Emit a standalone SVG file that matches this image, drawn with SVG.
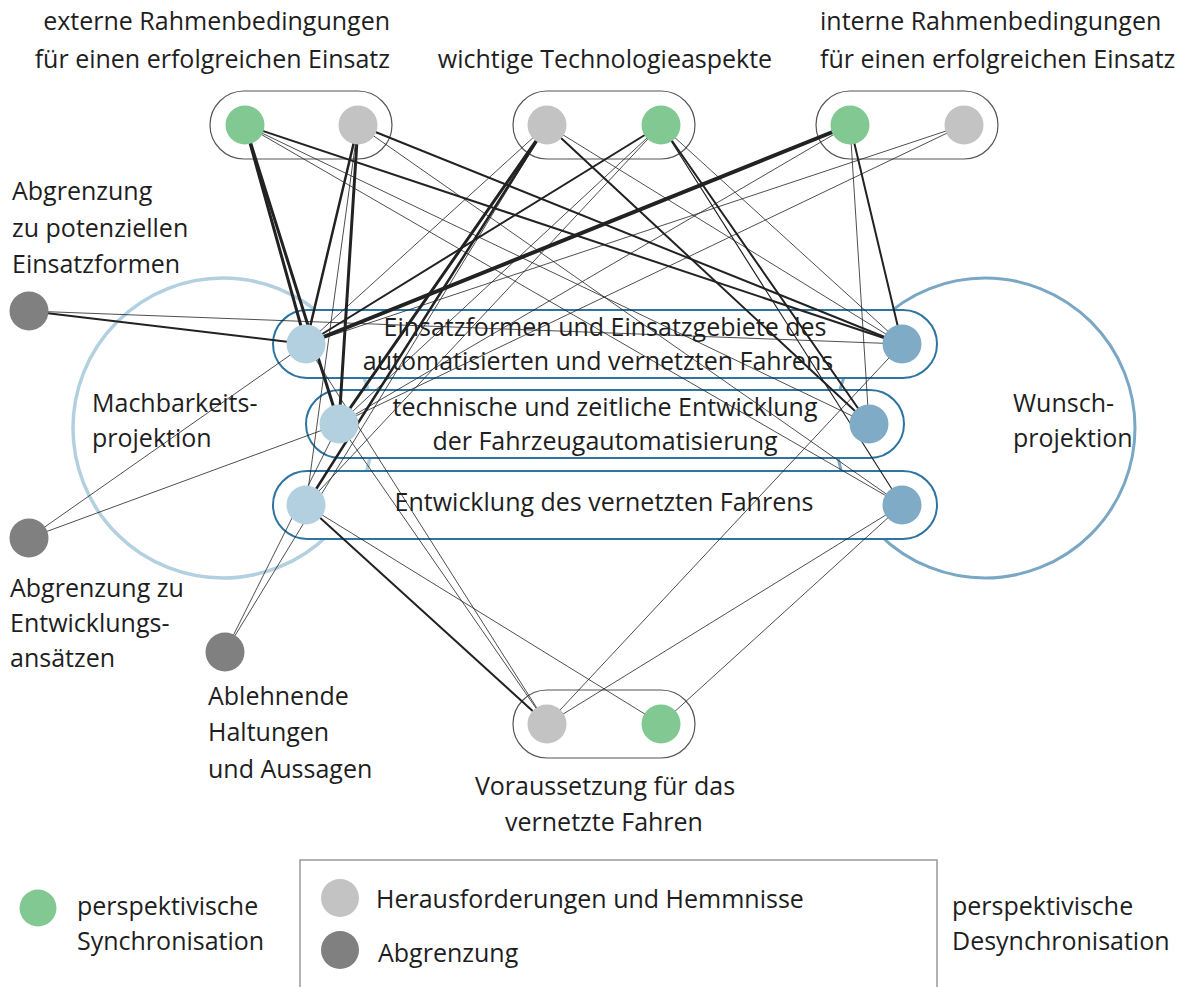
<svg xmlns="http://www.w3.org/2000/svg" width="1187" height="987" viewBox="0 0 1187 987">
<style>
text{font-family:"Open Sans","Liberation Sans",sans-serif;font-size:25px;fill:#1e1e1e}
.m{text-anchor:middle}
.r{text-anchor:end}
.grp{fill:#fff;stroke:#555;stroke-width:1.2}
.bp{fill:#fff;stroke:#2e74a0;stroke-width:2}
.g{fill:#82c892}
.lg{fill:#c3c3c3}
.dg{fill:#808080}
.lb{fill:#b3d0e0}
.db{fill:#7fabc6}
#edges line{stroke:#222;stroke-linecap:round}
.t{stroke-width:0.8}
.m2{stroke-width:2}
.k{stroke-width:3}
.k4{stroke-width:4}
</style>
<rect width="1187" height="987" fill="#fff"/>
<g id="circles">
<circle cx="223" cy="428" r="150" fill="none" stroke="#b3d0e0" stroke-width="3.5"/>
<circle cx="985" cy="428" r="150" fill="none" stroke="#7aa7c4" stroke-width="3"/>
</g>
<g id="pills">
<rect class="grp" x="210" y="91" width="182" height="68" rx="34"/>
<rect class="grp" x="513" y="91" width="182" height="68" rx="34"/>
<rect class="grp" x="816" y="91" width="182" height="68" rx="34"/>
<rect class="grp" x="513" y="690" width="182" height="68" rx="34"/>
<rect class="bp" x="273" y="310" width="664" height="68" rx="34"/>
<rect class="bp" x="306" y="390" width="598" height="68" rx="34"/>
<rect class="bp" x="273" y="471" width="664" height="68" rx="34"/>
</g>
<g id="labels">
<text class="r" x="390" y="30">externe Rahmenbedingungen</text>
<text class="r" x="390" y="68">für einen erfolgreichen Einsatz</text>
<text class="m" x="605" y="68">wichtige Technologieaspekte</text>
<text x="820" y="30">interne Rahmenbedingungen</text>
<text x="820" y="68">für einen erfolgreichen Einsatz</text>
<text x="12" y="200">Abgrenzung</text>
<text x="12" y="237">zu potenziellen</text>
<text x="12" y="273">Einsatzformen</text>
<text x="92" y="412">Machbarkeits-</text>
<text x="92" y="447">projektion</text>
<text x="1013" y="412">Wunsch-</text>
<text x="1013" y="447">projektion</text>
<text class="m" x="605" y="336">Einsatzformen und Einsatzgebiete des</text>
<text class="m" x="598" y="370">automatisierten und vernetzten Fahrens</text>
<text class="m" x="605" y="416">technische und zeitliche Entwicklung</text>
<text class="m" x="605" y="450">der Fahrzeugautomatisierung</text>
<text class="m" x="604" y="511">Entwicklung des vernetzten Fahrens</text>
<text x="10" y="597">Abgrenzung zu</text>
<text x="10" y="632">Entwicklungs-</text>
<text x="10" y="667">ansätzen</text>
<text x="208" y="705">Ablehnende</text>
<text x="208" y="741">Haltungen</text>
<text x="208" y="778">und Aussagen</text>
<text class="m" x="605" y="795">Voraussetzung für das</text>
<text class="m" x="604" y="831">vernetzte Fahren</text>
</g>
<g id="edges">
<line class="k" x1="245" y1="125" x2="306" y2="344"/>
<line class="k" x1="245" y1="125" x2="339" y2="424"/>
<line class="m2" x1="245" y1="125" x2="902" y2="344"/>
<line class="t" x1="245" y1="125" x2="869" y2="424"/>
<line class="t" x1="245" y1="125" x2="902" y2="505"/>
<line class="k" x1="358" y1="125" x2="306" y2="344" style="stroke-width:2.5"/>
<line class="k" x1="358" y1="125" x2="339" y2="424"/>
<line class="t" x1="358" y1="125" x2="306" y2="505"/>
<line class="m2" x1="358" y1="125" x2="902" y2="344"/>
<line class="t" x1="358" y1="125" x2="902" y2="505"/>
<line class="t" x1="547" y1="125" x2="306" y2="344"/>
<line class="k" x1="547" y1="125" x2="339" y2="424"/>
<line class="k" x1="547" y1="125" x2="306" y2="505" style="stroke-width:2.5"/>
<line class="t" x1="547" y1="125" x2="902" y2="344"/>
<line class="m2" x1="547" y1="125" x2="869" y2="424"/>
<line class="m2" x1="661" y1="125" x2="306" y2="344"/>
<line class="t" x1="661" y1="125" x2="339" y2="424"/>
<line class="t" x1="661" y1="125" x2="306" y2="505"/>
<line class="t" x1="661" y1="125" x2="902" y2="344"/>
<line class="m2" x1="661" y1="125" x2="869" y2="424"/>
<line class="t" x1="661" y1="125" x2="902" y2="505" style="stroke-width:1.2"/>
<line class="k4" x1="850" y1="125" x2="306" y2="344"/>
<line class="t" x1="850" y1="125" x2="339" y2="424"/>
<line class="m2" x1="850" y1="125" x2="902" y2="344"/>
<line class="t" x1="850" y1="125" x2="869" y2="424"/>
<line class="t" x1="964" y1="125" x2="306" y2="344"/>
<line class="t" x1="964" y1="125" x2="339" y2="424"/>
<line class="m2" x1="29" y1="311" x2="306" y2="344"/>
<line class="t" x1="29" y1="311" x2="902" y2="344"/>
<line class="t" x1="29" y1="538" x2="306" y2="344"/>
<line class="t" x1="29" y1="538" x2="339" y2="424"/>
<line class="t" x1="225" y1="652" x2="339" y2="424"/>
<line class="t" x1="225" y1="652" x2="547" y2="125"/>
<line class="t" x1="306" y1="344" x2="547" y2="724"/>
<line class="t" x1="339" y1="424" x2="547" y2="724"/>
<line class="m2" x1="306" y1="505" x2="547" y2="724"/>
<line class="t" x1="306" y1="505" x2="661" y2="724"/>
<line class="t" x1="902" y1="344" x2="547" y2="724"/>
<line class="t" x1="902" y1="505" x2="547" y2="724"/>
<line class="t" x1="902" y1="505" x2="661" y2="724"/>
</g>
<g id="n-A1"><circle class="g" cx="245" cy="125" r="19.5"/></g>
<g id="n-A2"><circle class="lg" cx="358" cy="125" r="19.5"/></g>
<g id="n-B1"><circle class="lg" cx="547" cy="125" r="19.5"/></g>
<g id="n-B2"><circle class="g" cx="661" cy="125" r="19.5"/></g>
<g id="n-C1"><circle class="g" cx="850" cy="125" r="19.5"/></g>
<g id="n-C2"><circle class="lg" cx="964" cy="125" r="19.5"/></g>
<g id="n-L1"><circle class="lb" cx="306" cy="344" r="19.5"/></g>
<g id="n-L2"><circle class="lb" cx="339" cy="424" r="19.5"/></g>
<g id="n-L3"><circle class="lb" cx="306" cy="505" r="19.5"/></g>
<g id="n-R1"><circle class="db" cx="902" cy="344" r="19.5"/></g>
<g id="n-R2"><circle class="db" cx="869" cy="424" r="19.5"/></g>
<g id="n-R3"><circle class="db" cx="902" cy="505" r="19.5"/></g>
<g id="n-D1"><circle class="dg" cx="29" cy="311" r="19.5"/></g>
<g id="n-D2"><circle class="dg" cx="29" cy="538" r="19.5"/></g>
<g id="n-D3"><circle class="dg" cx="225" cy="652" r="19.5"/></g>
<g id="n-E1"><circle class="lg" cx="547" cy="724" r="19.5"/></g>
<g id="n-E2"><circle class="g" cx="661" cy="724" r="19.5"/></g>
<g id="legend">
<rect x="300" y="860" width="637" height="140" fill="none" stroke="#999" stroke-width="1.5"/>
<circle class="g" cx="38" cy="908" r="18.5"/>
<text x="77" y="915">perspektivische</text>
<text x="77" y="950">Synchronisation</text>
<circle class="lg" cx="340" cy="898" r="19"/>
<text x="376" y="908">Herausforderungen und Hemmnisse</text>
<circle class="dg" cx="340" cy="950" r="19"/>
<text x="378" y="962">Abgrenzung</text>
<text x="952" y="915">perspektivische</text>
<text x="952" y="950">Desynchronisation</text>
</g>
</svg>
